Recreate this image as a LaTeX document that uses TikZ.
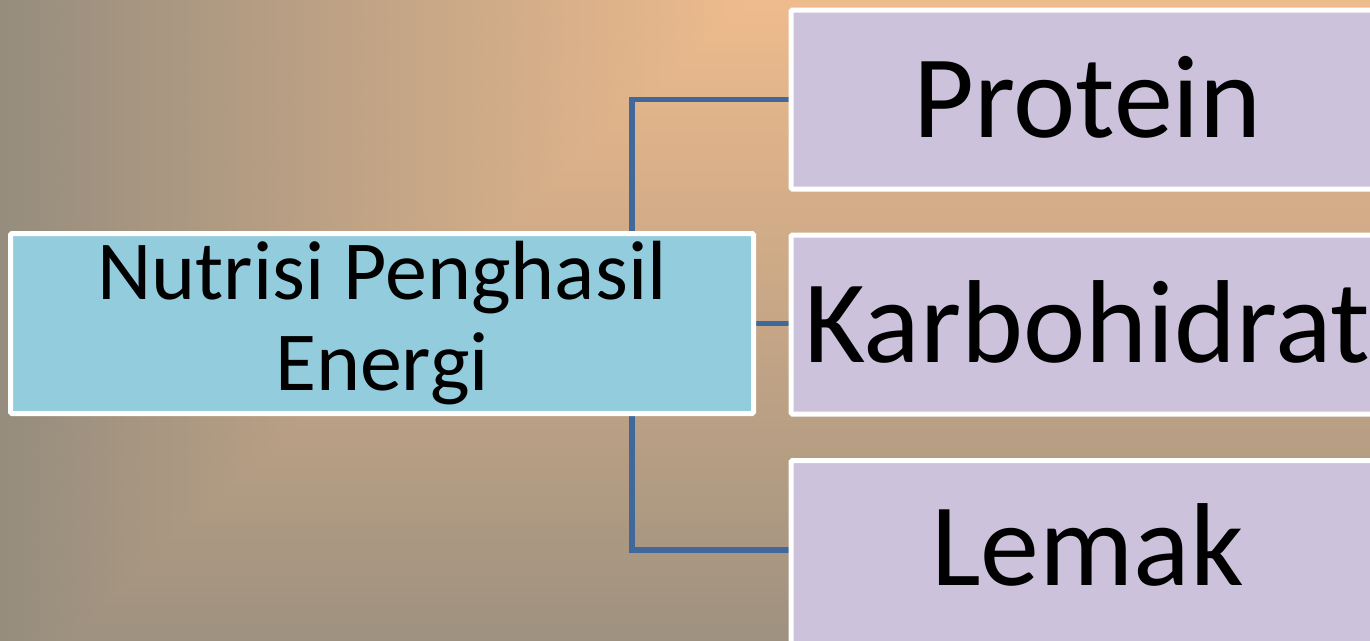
\documentclass[tikz,border=0pt]{standalone}
\usepackage{fontspec}
\setmainfont{Carlito}
\usetikzlibrary{calc}
\definecolor{bgorange}{HTML}{EEBB8D}
\definecolor{bggray}{HTML}{968D7E}
\definecolor{mainfill}{HTML}{93CCDD}
\definecolor{subfill}{HTML}{CCC2DC}
\definecolor{linkblue}{HTML}{41689A}
\pgfdeclarelayer{bg}
\pgfdeclarelayer{conn}
\pgfsetlayers{bg,conn,main}
\begin{document}
\begin{tikzpicture}[x=1pt,y=-1pt,
  box/.style={draw=white, line width=5pt, rounded corners=1.5pt, inner sep=0pt},
  mainbox/.style={box, fill=mainfill, minimum width=743pt, minimum height=180pt, align=center, font=\fontsize{84}{91}\selectfont},
  subbox/.style={box, fill=subfill, minimum width=593pt, minimum height=179pt, text height=76pt, text depth=0pt, font=\fontsize{118}{130}\selectfont},
  link/.style={draw=linkblue, line width=5.5pt}]
\useasboundingbox (0,0) rectangle (1370,640);
\begin{pgfonlayer}{bg}
\fill[bggray] (0,0) rectangle (1370,640);
\begin{scope}
\clip (0,0) rectangle (1370,640);
\foreach \i in {0,...,160} {
  \pgfmathsetmacro{\ya}{4*\i}
  \pgfmathsetmacro{\t}{min(1,(\ya+2)/705)}
  \pgfmathtruncatemacro{\p}{round(100*(1-\t))}
  \pgfmathsetmacro{\xa}{750*(1-\t)}
  \colorlet{stripc}{bgorange!\p!bggray}
  \fill[left color=bggray, right color=stripc] (0,\ya-0.3) rectangle (\xa,\ya+4.3);
  \fill[stripc] (\xa-0.3,\ya-0.3) rectangle (1370,\ya+4.3);
}
\end{scope}
\end{pgfonlayer}
\node[mainbox] (main) at (382,323.5) {Nutrisi Penghasil\\Energi};
\node[subbox] (protein) at (1087.5,99.5) {Protein};
\node[subbox] (karbo) at (1087.5,324.5) {Karbohidrat};
\node[subbox, minimum height=189pt, text depth=16pt] (lemak) at (1087.5,555) {Lemak};
\coordinate (jx) at (632,0);
\begin{pgfonlayer}{conn}
\draw[link] (main.north -| jx) |- (protein.west);
\draw[link] (main.east) -- (karbo.west |- main.east);
\draw[link] (main.south -| jx) |- ([yshift=5pt]lemak.west);
\end{pgfonlayer}
\end{tikzpicture}
\end{document}
